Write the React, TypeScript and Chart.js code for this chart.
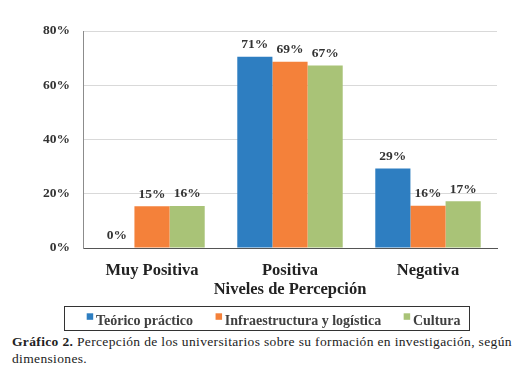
import React, { useEffect, useRef } from "react";
import { Chart, registerables } from "chart.js";
Chart.register(...registerables);

const categories = ["Muy Positiva", "Positiva", "Negativa"];
const seriesNames = ["Teórico práctico", "Infraestructura y logística", "Cultura"];
const teoricoPractico = [0, 70.5, 29.3];
const infraestructura = [15.4, 68.7, 15.6];
const cultura = [15.5, 67.3, 17.2];
const seriesColors = ["#2E7EC1", "#F4813A", "#A9C377"];
const yMax = 80;
const yStep = 20;
const axisTitle = "Niveles de Percepción";

const SERIF = "'Liberation Serif', 'Times New Roman', serif";

export default function App() {
  const ref = useRef<HTMLCanvasElement>(null);

  useEffect(() => {
    if (!ref.current) return;
    const values = [teoricoPractico, infraestructura, cultura];

    const overlay = {
      id: "overlay",
      afterDatasetsDraw(chart: any) {
        const ctx = chart.ctx;
        ctx.save();
        ctx.font = `bold 13.5px ${SERIF}`;
        ctx.fillStyle = "#333333";
        ctx.textAlign = "center";
        ctx.textBaseline = "middle";
        chart.data.datasets.forEach((ds: any, di: number) => {
          const meta = chart.getDatasetMeta(di);
          meta.data.forEach((bar: any, i: number) => {
            ctx.fillText(Math.round(ds.data[i]) + "%", bar.x, bar.y - 12);
          });
        });
        ctx.restore();
      },
      afterDraw(chart: any) {
        const ctx = chart.ctx;
        ctx.save();
        ctx.font = `bold 14px ${SERIF}`;
        ctx.textBaseline = "alphabetic";
        ctx.textAlign = "left";
        let x = 78.7;
        const baseY = 317;
        const sq = 6.5;
        let lastEnd = x;
        chart.data.datasets.forEach((ds: any) => {
          ctx.fillStyle = ds.backgroundColor;
          ctx.fillRect(x, baseY - 11.7, sq, sq);
          const tx = x + 9.3;
          ctx.fillStyle = "#404040";
          ctx.fillText(ds.label, tx, baseY);
          const w = ctx.measureText(ds.label).width;
          lastEnd = tx + w;
          x = tx + w + 22.5;
        });
        ctx.strokeStyle = "#333333";
        ctx.lineWidth = 1;
        ctx.strokeRect(56.5, 298.5, Math.round(lastEnd + 9 - 56), 24);
        ctx.restore();
      },
    };

    const chart = new Chart(ref.current, {
      type: "bar",
      data: {
        labels: categories,
        datasets: seriesNames.map((name, i) => ({
          label: name,
          data: values[i],
          backgroundColor: seriesColors[i],
          borderWidth: 0,
          categoryPercentage: 0.764,
          barPercentage: 1,
        })),
      },
      options: {
        animation: false,
        responsive: false,
        layout: { padding: { top: 23, left: 0, right: 19, bottom: 36.5 } },
        plugins: {
          legend: { display: false },
          tooltip: { enabled: false },
        },
        scales: {
          x: {
            afterFit(scale: any) {
              scale.height = 49.5;
            },
            grid: { display: false, drawTicks: false },
            border: { display: true, color: "#555555", width: 1 },
            ticks: {
              padding: 14,
              color: "#222222",
              font: { family: SERIF, size: 16.5, weight: "bold", lineHeight: 1 },
            },
            title: {
              display: true,
              text: axisTitle,
              color: "#222222",
              padding: { top: 2.5, bottom: 0 },
              font: { family: SERIF, size: 16.5, weight: "bold", lineHeight: 1 },
            },
          },
          y: {
            min: 0,
            max: yMax,
            afterFit(scale: any) {
              scale.width = 75;
            },
            ticks: {
              stepSize: yStep,
              padding: 13,
              color: "#333333",
              font: { family: SERIF, size: 13.5, weight: "bold" },
              callback: (v: any) => v + "%",
            },
            grid: {
              drawTicks: false,
              color: (c: any) => (c.tick && c.tick.value === 0 ? "rgba(0,0,0,0)" : "#D9D9D9"),
            },
            border: { display: true, color: "#8C8C8C", width: 1 },
          },
        },
      },
      plugins: [overlay],
    } as any);

    return () => chart.destroy();
  }, []);

  return (
    <div>
      <canvas ref={ref} width={508} height={326} style={{ display: "block", width: 508, height: 326 }} />
      <div
        style={{
          marginTop: 0,
          marginLeft: 4,
          fontFamily: SERIF,
          fontSize: 13.5,
          letterSpacing: "0.35px",
          lineHeight: "16.5px",
          color: "#222222",
          whiteSpace: "nowrap",
        }}
      >
        <b>Gráfico 2.</b> Percepción de los universitarios sobre su formación en investigación, según
        <br />
        dimensiones.
      </div>
    </div>
  );
}
